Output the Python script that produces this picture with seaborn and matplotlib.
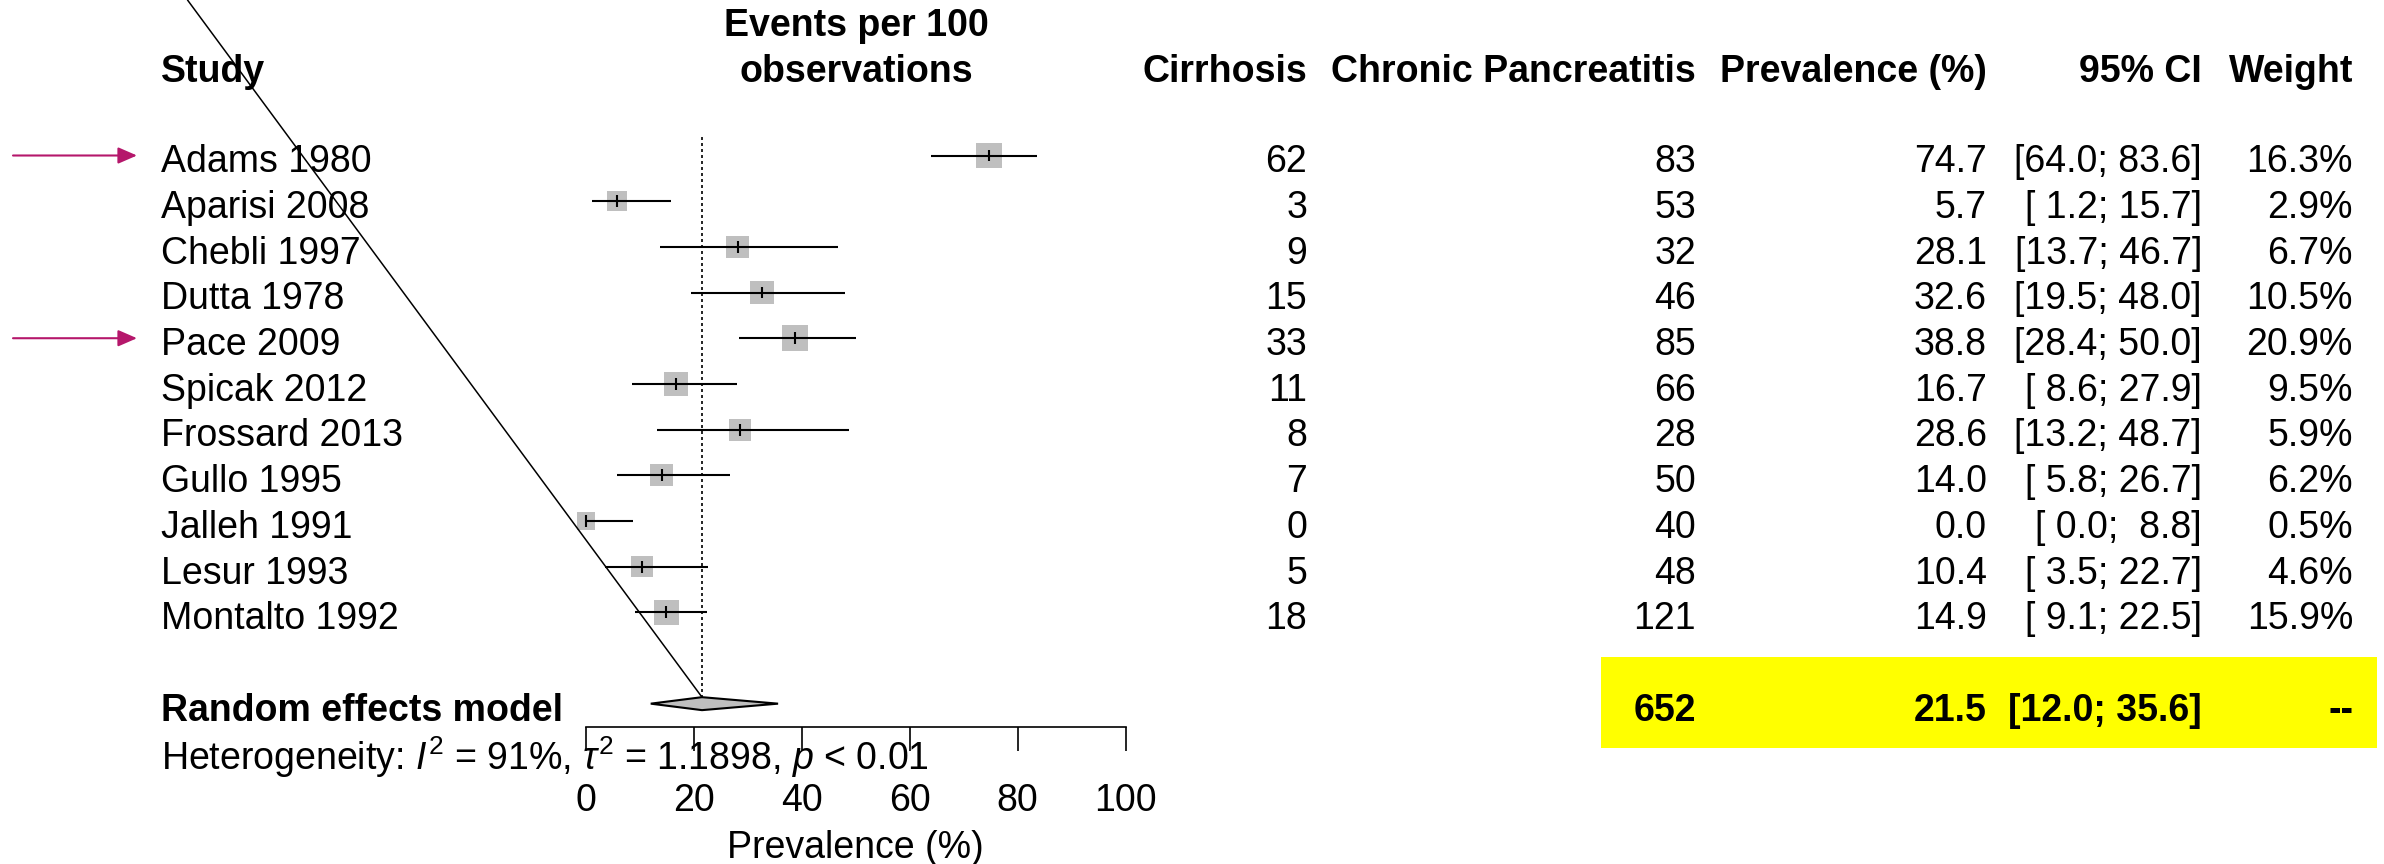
import numpy as np
import pandas as pd
import matplotlib
matplotlib.use("Agg")
import matplotlib.pyplot as plt
from matplotlib.patches import Rectangle, Polygon, ConnectionPatch
from matplotlib.transforms import blended_transform_factory
import seaborn as sns

# study data
studies = ["Adams 1980", "Aparisi 2008", "Chebli 1997", "Dutta 1978", "Pace 2009",
           "Spicak 2012", "Frossard 2013", "Gullo 1995", "Jalleh 1991", "Lesur 1993",
           "Montalto 1992"]
cirrhosis = [62, 3, 9, 15, 33, 11, 8, 7, 0, 5, 18]
pancreatitis = [83, 53, 32, 46, 85, 66, 28, 50, 40, 48, 121]
prevalence = [74.7, 5.7, 28.1, 32.6, 38.8, 16.7, 28.6, 14.0, 0.0, 10.4, 14.9]
ci_lower = [64.0, 1.2, 13.7, 19.5, 28.4, 8.6, 13.2, 5.8, 0.0, 3.5, 9.1]
ci_upper = [83.6, 15.7, 46.7, 48.0, 50.0, 27.9, 48.7, 26.7, 8.8, 22.7, 22.5]
ci_labels = ["[64.0; 83.6]", "[ 1.2; 15.7]", "[13.7; 46.7]", "[19.5; 48.0]",
             "[28.4; 50.0]", "[ 8.6; 27.9]", "[13.2; 48.7]", "[ 5.8; 26.7]",
             "[ 0.0;  8.8]", "[ 3.5; 22.7]", "[ 9.1; 22.5]"]
weights = [16.3, 2.9, 6.7, 10.5, 20.9, 9.5, 5.9, 6.2, 0.5, 4.6, 15.9]
highlighted = ["Adams 1980", "Pace 2009"]

pooled_n = 652
pooled_prev = 21.5
pooled_lower = 12.0
pooled_upper = 35.6
pooled_ci = "[12.0; 35.6]"
heterogeneity = r"Heterogeneity: $\mathit{I}^{2}$ = 91%, $\tau^{2}$ = 1.1898, $\mathit{p}$ < 0.01"
x_ticks = [0, 20, 40, 60, 80, 100]

df = pd.DataFrame({"study": studies, "cirrhosis": cirrhosis, "pancreatitis": pancreatitis,
                   "prev": prevalence, "lower": ci_lower, "upper": ci_upper,
                   "ci": ci_labels, "weight": weights})
df["row"] = np.arange(len(df))
# marker side in px grows slowly with weight
df["side"] = 12 + 6.5 * df["weight"] ** 0.25

sns.set_theme(style="white")
plt.rcParams["font.family"] = ["Liberation Sans", "DejaVu Sans"]
plt.rcParams["mathtext.fontset"] = "custom"
plt.rcParams["mathtext.rm"] = "Liberation Sans"
plt.rcParams["mathtext.it"] = "Liberation Sans:italic"
plt.rcParams["mathtext.bf"] = "Liberation Sans:bold"
plt.rcParams["text.color"] = "black"
plt.rcParams["axes.labelcolor"] = "black"
plt.rcParams["xtick.color"] = "black"

W, H = 2384, 864
ROW0, STEP = 155.5, 45.68
FS = 27


def to_row(p):
    return (p - ROW0) / STEP


fig = plt.figure(figsize=(W / 100, H / 100), dpi=100)
ax = fig.add_axes([586 / W, 0, 539.5 / W, 1])
ax.set_facecolor("none")
ax.set_xlim(0, 100)
ax.set_ylim(to_row(H), to_row(0))
for side in ["top", "left", "right"]:
    ax.spines[side].set_visible(False)
ax.spines["bottom"].set_position(("data", to_row(727)))
ax.spines["bottom"].set_bounds(0, 100)
ax.spines["bottom"].set_color("black")
ax.spines["bottom"].set_linewidth(1.2)
ax.set_yticks([])
ax.set_xticks(x_ticks)
ax.xaxis.set_ticks_position("bottom")
ax.tick_params(axis="x", direction="out", length=17.3, width=1.2, pad=23,
               labelsize=FS, color="black", labelcolor="black")
ax.set_xlabel("Prevalence (%)", fontsize=FS, color="black")
ax.xaxis.set_label_coords(0.5, 1 - 830 / H)

# study marks
ax.scatter(df["prev"], df["row"], s=(df["side"] / 1.389) ** 2, marker="s",
           color="#BFBFBF", linewidths=0, zorder=2, clip_on=False)
ax.hlines(df["row"], df["lower"], df["upper"], color="black", lw=1.5, zorder=3, clip_on=False)
ax.vlines(df["prev"], df["row"] - 0.13, df["row"] + 0.13, color="black", lw=1.5, zorder=3,
          clip_on=False)

# pooled diamond
row_d = len(df) + 1
half = 0.142
diamond = Polygon([(pooled_lower, row_d), (pooled_prev, row_d - half),
                   (pooled_upper, row_d), (pooled_prev, row_d + half)],
                  closed=True, facecolor="#BFBFBF", edgecolor="black", lw=1.5, zorder=3)
ax.add_patch(diamond)
ax.vlines(pooled_prev, to_row(137), row_d - half, color="black", lw=1.2,
          linestyles=(0, (1.8, 1.8)), zorder=1)

# diagonal line drawn across the plot
con = ConnectionPatch(xyA=(187.5 / W, 1.0), coordsA=fig.transFigure,
                      xyB=(pooled_prev, row_d - half), coordsB=ax.transData,
                      color="black", lw=1.1)
fig.add_artist(con)

tr = blended_transform_factory(fig.transFigure, ax.transData)
BASE = 0.37

# yellow highlight behind pooled values
ax.add_patch(Rectangle((1600.5 / W, to_row(656.7)), (2377 - 1600.5) / W, (747.7 - 656.7) / STEP,
                       transform=tr, facecolor="yellow", edgecolor="none", clip_on=False, zorder=0))

# headers
def header(x, y, s, ha):
    fig.text(x / W, 1 - y / H, s, ha=ha, va="baseline", fontsize=FS, fontweight="bold")

header(161, 81.5, "Study", "left")
header(856, 36, "Events per 100", "center")
header(856, 81.5, "observations", "center")
header(1307, 81.5, "Cirrhosis", "right")
header(1696, 81.5, "Chronic Pancreatitis", "right")
header(1987, 81.5, "Prevalence (%)", "right")
header(2202, 81.5, "95% CI", "right")
header(2353, 81.5, "Weight", "right")

# table rows
for _, r in df.iterrows():
    y = r["row"] + BASE
    ax.text(161 / W, y, r["study"], transform=tr, ha="left", va="baseline", fontsize=FS)
    ax.text(1307 / W, y, f"{r['cirrhosis']}", transform=tr, ha="right", va="baseline", fontsize=FS)
    ax.text(1696 / W, y, f"{r['pancreatitis']}", transform=tr, ha="right", va="baseline", fontsize=FS)
    ax.text(1987 / W, y, f"{r['prev']:.1f}", transform=tr, ha="right", va="baseline", fontsize=FS)
    ax.text(2202 / W, y, r["ci"], transform=tr, ha="right", va="baseline", fontsize=FS)
    ax.text(2353 / W, y, f"{r['weight']:.1f}%", transform=tr, ha="right", va="baseline", fontsize=FS)
    if r["study"] in highlighted:
        ax.annotate("", xy=(137 / W, r["row"]), xytext=(13 / W, r["row"]),
                    xycoords=tr, textcoords=tr, annotation_clip=False,
                    arrowprops=dict(arrowstyle="-|>,head_length=1.15,head_width=0.5",
                                    mutation_scale=10, color="#B5176B", lw=1.5,
                                    shrinkA=0, shrinkB=0))

# pooled row
yb = row_d + BASE
ax.text(161 / W, yb, "Random effects model", transform=tr, ha="left", va="baseline",
        fontsize=FS, fontweight="bold")
ax.text(1696 / W, yb, f"{pooled_n}", transform=tr, ha="right", va="baseline", fontsize=FS, fontweight="bold")
ax.text(1987 / W, yb, f"{pooled_prev:.1f}", transform=tr, ha="right", va="baseline", fontsize=FS, fontweight="bold")
ax.text(2202 / W, yb, pooled_ci, transform=tr, ha="right", va="baseline", fontsize=FS, fontweight="bold")
ax.text(2353 / W, yb, "--", transform=tr, ha="right", va="baseline", fontsize=FS, fontweight="bold")

fig.text(161 / W, 1 - 770 / H, heterogeneity, ha="left", va="baseline", fontsize=FS)

fig.savefig("out.png", dpi=100, facecolor="white")
